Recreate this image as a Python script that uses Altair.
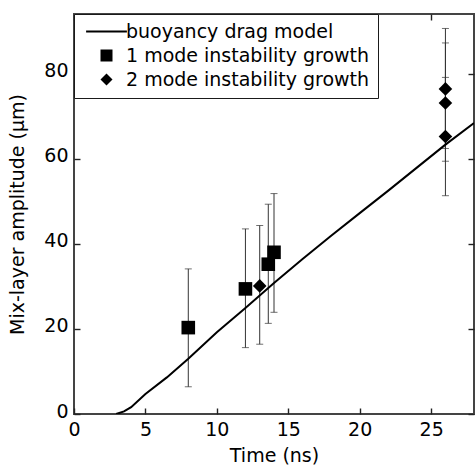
import altair as alt
import pandas as pd

# ---- data ----
model_t = [2.95, 3.5, 4.0, 5.0, 6.5, 8.0, 10.0, 12.0, 14.0, 16.0, 18.0, 20.0, 22.0, 24.0, 26.0, 28.0]
model_y = [0.0, 0.6, 1.6, 4.7, 8.6, 13.0, 19.2, 24.9, 30.8, 36.4, 41.9, 47.2, 52.5, 57.9, 63.3, 68.4]

mode1_t = [8.0, 12.0, 13.6, 14.0]
mode1_y = [20.3, 29.4, 35.2, 38.0]
mode1_lo = [6.4, 15.6, 21.3, 23.9]
mode1_hi = [34.1, 43.5, 49.3, 51.8]

mode2_t = [13.0, 26.0, 26.0, 26.0]
mode2_y = [30.1, 76.4, 73.1, 65.2]
mode2_lo = [16.4, 62.4, 59.4, 51.3]
mode2_hi = [44.3, 90.6, 87.2, 79.1]

series = ["buoyancy drag model", "1 mode instability growth", "2 mode instability growth"]
x_ticks = [0, 5, 10, 15, 20, 25]
y_ticks = [0, 20, 40, 60, 80]

# ---- tables ----
model = pd.DataFrame({"t": model_t, "y": model_y})
pts = pd.DataFrame({
    "t": mode1_t + mode2_t,
    "y": mode1_y + mode2_y,
    "lo": mode1_lo + mode2_lo,
    "hi": mode1_hi + mode2_hi,
    "series": [series[1]] * len(mode1_t) + [series[2]] * len(mode2_t),
})
xt = pd.DataFrame({"t": x_ticks})
yt = pd.DataFrame({"y": y_ticks})

W, H = 400, 400
FONT = "DejaVu Sans"
FS = 19
INK = "#1a1a1a"
FRAME = "#444444"
TICK = 6

xs = alt.Scale(domain=[0, 28], nice=False, zero=False)
ys = alt.Scale(domain=[0, 94], nice=False, zero=False)

# axes are pulled inside the frame by the tick length so the ticks point inwards
common = dict(grid=False, domain=False, tickSize=TICK, tickColor="#222222", tickWidth=1.4,
              offset=-TICK, labelFlush=False)
xaxis = alt.Axis(title="Time (ns)", values=x_ticks, labelPadding=6, titlePadding=7, **common)
yaxis = alt.Axis(title="Mix-layer amplitude (μm)", values=y_ticks, labelPadding=6,
                 titlePadding=16, labelOffset=-3, **common)
xaxis_top = alt.Axis(orient="top", values=x_ticks, labels=False, title=None, **common)
yaxis_right = alt.Axis(orient="right", values=y_ticks, labels=False, title=None, **common)


def X(f):
    return alt.X(f, type="quantitative", scale=xs, axis=xaxis)


def Y(f):
    return alt.Y(f, type="quantitative", scale=ys, axis=yaxis)


bars = alt.Chart(pts).mark_rule(color="#333333", strokeWidth=1).encode(
    x=X("t"), y=Y("lo"), y2="hi")
cap_lo = alt.Chart(pts).mark_tick(orient="horizontal", size=7, thickness=1, color="#333333").encode(
    x=X("t"), y=Y("lo"))
cap_hi = alt.Chart(pts).mark_tick(orient="horizontal", size=7, thickness=1, color="#333333").encode(
    x=X("t"), y=Y("hi"))

line = alt.Chart(model).mark_line(color="black", strokeWidth=2, clip=True).encode(
    x=X("t"), y=Y("y"))

legend = alt.Legend(
    title=None, orient="top-left", offset=0, padding=8,
    strokeColor=INK, fillColor="white", cornerRadius=0,
    symbolSize=144, symbolFillColor="black",
    symbolOffset=15, labelOffset=10, rowPadding=4,
    labelFont=FONT, labelFontSize=FS, labelColor="black", labelLimit=0,
)

# legend line entry is drawn as a thin filled bar (custom path), points are square / diamond
points = alt.Chart(pts).mark_point(filled=True, size=185, opacity=1, color="black").encode(
    x=X("t"), y=Y("y"),
    shape=alt.Shape("series:N",
                    scale=alt.Scale(domain=series,
                                    range=["M-3.4,-0.17H3.4V0.17H-3.4Z", "square", "diamond"]),
                    legend=legend),
)

main = alt.layer(bars, cap_lo, cap_hi, line, points)

# mirrored tick axes on top and right (invisible carrier marks)
top_ax = alt.Chart(xt).mark_point(opacity=0).encode(
    x=alt.X("t", type="quantitative", scale=xs, axis=xaxis_top), y=alt.value(0))
right_ax = alt.Chart(yt).mark_point(opacity=0).encode(
    y=alt.Y("y", type="quantitative", scale=ys, axis=yaxis_right), x=alt.value(W))

chart = alt.layer(main, top_ax, right_ax).resolve_axis(
    x="independent", y="independent"
).properties(
    width=W, height=H,
    autosize=alt.AutoSizeParams(type="none"),
    padding={"left": 74, "top": 14, "right": 1, "bottom": 52},
).configure_view(
    stroke=FRAME, strokeWidth=2
).configure_axis(
    labelFont=FONT, labelFontSize=FS, labelColor="black",
    titleFont=FONT, titleFontSize=FS, titleFontWeight="normal", titleColor="black",
)

chart.save("out.html", embed_options={"renderer": "svg", "actions": False})
